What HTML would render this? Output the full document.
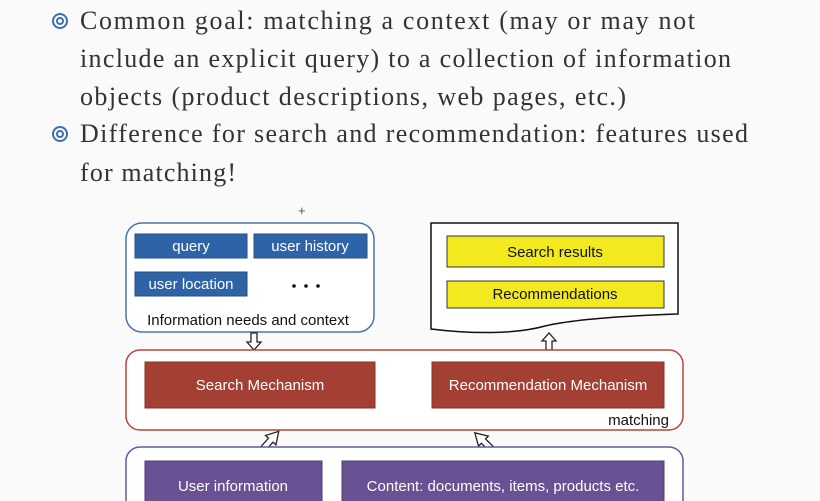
<!DOCTYPE html>
<html><head><meta charset="utf-8"><style>
html,body{margin:0;background:#fff;width:820px;height:501px;overflow:hidden}
svg{display:block}
.t{font-family:"Liberation Serif",serif;font-size:26px;fill:#333}
.s{font-family:"Liberation Sans",sans-serif;font-size:15px}
</style></head><body>
<svg width="820" height="501" viewBox="0 0 820 501">
<rect width="820" height="501" fill="#fafafa"/>
<g fill="none" stroke="#3d6fb0" stroke-width="2">
<circle cx="60" cy="21" r="7"/><circle cx="60" cy="21" r="3"/>
<circle cx="60" cy="134" r="7"/><circle cx="60" cy="134" r="3"/>
</g>
<text class="t" x="80" y="29" textLength="615" lengthAdjust="spacing">Common goal: matching a context (may or may not</text>
<text class="t" x="80" y="67" textLength="651" lengthAdjust="spacing">include an explicit query) to a collection of information</text>
<text class="t" x="80" y="105" textLength="546" lengthAdjust="spacing">objects (product descriptions, web pages, etc.)</text>
<text class="t" x="80" y="142" textLength="668" lengthAdjust="spacing">Difference for search and recommendation: features used</text>
<text class="t" x="80" y="181" textLength="156" lengthAdjust="spacing">for matching!</text>
<text x="298" y="215" font-family="Liberation Sans" font-size="13" fill="#555">+</text>

<rect x="126" y="223" width="248" height="109" rx="16" fill="#fff" stroke="#4a74b4" stroke-width="1.5"/>
<g fill="#2f63a8" stroke="#24507f"><rect x="135" y="234" width="112" height="24"/><rect x="254" y="234" width="113" height="24"/><rect x="135" y="272" width="112" height="24"/></g>
<g class="s" fill="#fff" text-anchor="middle"><text x="191" y="251">query</text><text x="310" y="251">user history</text><text x="191" y="289">user location</text></g>
<g fill="#111"><circle cx="294" cy="286" r="1.8"/><circle cx="306" cy="286" r="1.8"/><circle cx="318" cy="286" r="1.8"/></g>
<text class="s" x="248" y="325" text-anchor="middle" fill="#111">Information needs and context</text>

<path d="M431,223 H678 V314 C620,316 570,320 545,326 C520,333 480,335 431,329 Z" fill="#fff" stroke="#111" stroke-width="1.5"/>
<g fill="#f2ea1e" stroke="#333"><rect x="447" y="236" width="217" height="31"/><rect x="447" y="281" width="217" height="27"/></g>
<g class="s" fill="#111" text-anchor="middle"><text x="555" y="257">Search results</text><text x="555" y="299">Recommendations</text></g>

<path d="M251,333 V342 H247 L254,350 L261,342 H257 V333 Z" fill="#fff" stroke="#222" stroke-width="1.3"/>
<path d="M546,350 V341 H542 L549,333 L556,341 H552 V350 Z" fill="#fff" stroke="#222" stroke-width="1.3"/>

<rect x="126" y="350" width="557" height="80" rx="14" fill="#fff" stroke="#b9453a" stroke-width="1.5"/>
<g fill="#a33f33" stroke="#8a3228"><rect x="145" y="362" width="230" height="46"/><rect x="432" y="362" width="232" height="46"/></g>
<g class="s" fill="#fff" text-anchor="middle"><text x="260" y="390">Search Mechanism</text><text x="548" y="390">Recommendation Mechanism</text></g>
<text class="s" x="669" y="425" text-anchor="end" fill="#111">matching</text>

<path transform="translate(252,461) rotate(-48)" d="M0,-3 H28 V-7 L40,0 L28,7 V3 H0 Z" fill="#fff" stroke="#222" stroke-width="1.3"/>
<path transform="translate(505,462) rotate(-136)" d="M0,-3 H30 V-7 L42,0 L30,7 V3 H0 Z" fill="#fff" stroke="#222" stroke-width="1.3"/>

<rect x="126" y="447" width="557" height="80" rx="14" fill="#fff" stroke="#6b55a0" stroke-width="1.5"/>
<g fill="#6a5194" stroke="#4f3c78"><rect x="145" y="461" width="177" height="45"/><rect x="342" y="461" width="322" height="45"/></g>
<g class="s" fill="#fff" text-anchor="middle"><text x="233" y="491">User information</text><text x="503" y="491">Content: documents, items, products etc.</text></g>
</svg>
</body></html>
